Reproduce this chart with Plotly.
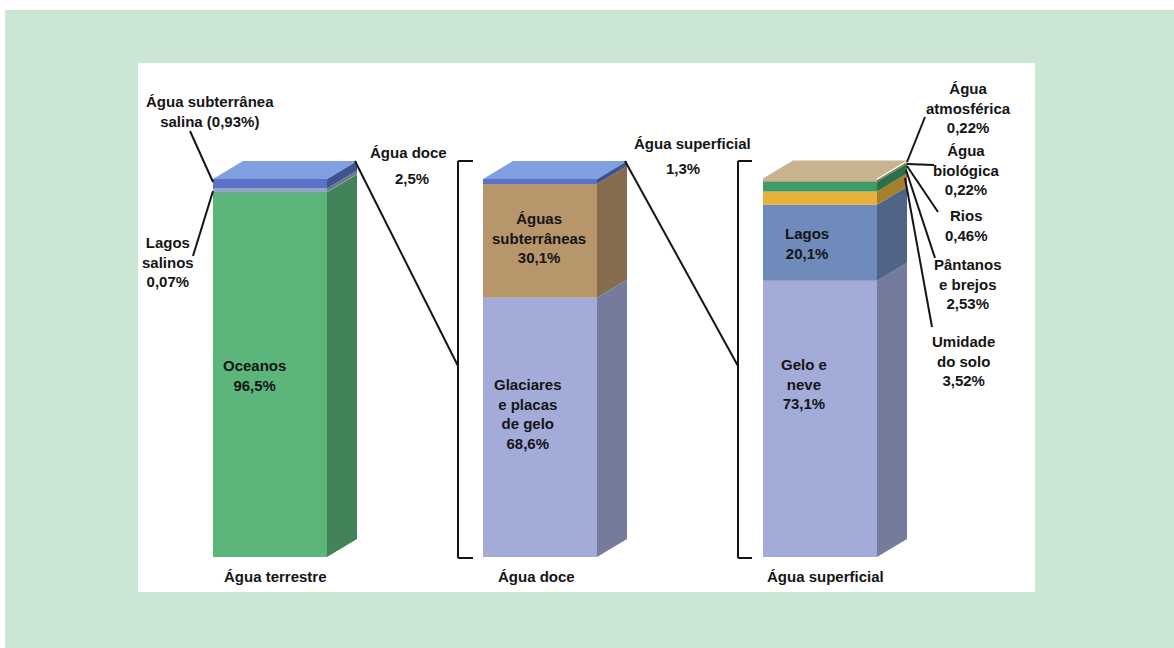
import plotly.graph_objects as go

# ---- data -------------------------------------------------------------
TERRESTRE_NAMES = ["Oceanos", "Lagos salinos", "Água subterrânea salina", "Água doce"]
TERRESTRE_VALUES = [96.5, 0.07, 0.93, 2.5]

DOCE_NAMES = ["Glaciares e placas de gelo", "Águas subterrâneas", "Água superficial"]
DOCE_VALUES = [68.6, 30.1, 1.3]

SUPERFICIAL_NAMES = ["Gelo e neve", "Lagos", "Umidade do solo", "Pântanos e brejos",
                     "Rios", "Água biológica", "Água atmosférica"]
SUPERFICIAL_VALUES = [73.1, 20.1, 3.52, 2.53, 0.46, 0.22, 0.22]

BAR_TITLES = ["Água terrestre", "Água doce", "Água superficial"]

# ---- styling ----------------------------------------------------------
TERRESTRE_COLORS = ["#5cb67c", "#7d9a9a", "#93a9c2", "#5a73c9"]
DOCE_COLORS = ["#a3abd9", "#b8966b", "#5a73c9"]
SUPERFICIAL_COLORS = ["#a3abd9", "#6e8bbb", "#e6b13d", "#3e9c68",
                      "#b5a47c", "#c2ab86", "#c9b592"]
TOP_COLORS = ["#7f9fe1", "#7f9fe1", "#c8b391"]

W, H = 1174, 648
CENTERS = [270, 540, 820]      # bar centres, horizontal pixels
BAR_W = 114
DEPTH_X = 30                   # 3-D depth offset (px)
DEPTH_Y_PX = 18
PX_PER_PCT = 3.78              # vertical scale
BASE_PX = 557                  # pixel row of 0 %
DEPTH_Y = DEPTH_Y_PX / PX_PER_PCT

FONT = "Liberation Sans, Arial, sans-serif"
INK = "#151515"


def pct_to_px(v):
    return BASE_PX - v * PX_PER_PCT


def darken(hex_color, f=0.72):
    h = hex_color.lstrip("#")
    r, g, b = (int(h[i:i + 2], 16) for i in (0, 2, 4))
    return "#%02x%02x%02x" % (int(r * f), int(g * f), int(b * f))


def fmt(v, d=1):
    return f"{v:.{d}f}".replace(".", ",") + "%"


fig = go.Figure()

columns = [
    (TERRESTRE_VALUES, TERRESTRE_COLORS),
    (DOCE_VALUES, DOCE_COLORS),
    (SUPERFICIAL_VALUES, SUPERFICIAL_COLORS),
]

corners = []
for i, (vals, cols) in enumerate(columns):
    cx = CENTERS[i]
    xl, xr = cx - BAR_W / 2, cx + BAR_W / 2
    cum = 0.0
    for v, c in zip(vals, cols):
        # front face
        fig.add_trace(go.Bar(x=[cx], y=[v], base=[cum], width=[BAR_W],
                             marker=dict(color=c, line=dict(width=0)),
                             hoverinfo="skip", showlegend=False))
        # right side face
        fig.add_trace(go.Scatter(
            x=[xr, xr + DEPTH_X, xr + DEPTH_X, xr, xr],
            y=[cum, cum + DEPTH_Y, cum + v + DEPTH_Y, cum + v, cum],
            mode="lines", fill="toself", fillcolor=darken(c),
            line=dict(width=0, color=darken(c)), hoverinfo="skip", showlegend=False))
        cum += v
    # top face
    fig.add_trace(go.Scatter(
        x=[xl, xr, xr + DEPTH_X, xl + DEPTH_X, xl],
        y=[cum, cum, cum + DEPTH_Y, cum + DEPTH_Y, cum],
        mode="lines", fill="toself", fillcolor=TOP_COLORS[i],
        line=dict(width=0, color=TOP_COLORS[i]), hoverinfo="skip", showlegend=False))
    corners.append((xr + DEPTH_X, pct_to_px(cum + DEPTH_Y), xl, pct_to_px(cum)))

shapes = [
    # green card and white panel
    dict(type="rect", xref="x", yref="y2", x0=5, x1=1174, y0=10, y1=648,
         fillcolor="#cce6d5", line=dict(width=0), layer="below"),
    dict(type="rect", xref="x", yref="y2", x0=138, x1=1035, y0=63, y1=592,
         fillcolor="#ffffff", line=dict(width=0), layer="below"),
]


def seg(x0, y0, x1, y1, w=2):
    shapes.append(dict(type="line", xref="x", yref="y2", x0=x0, y0=y0, x1=x1, y1=y1,
                       line=dict(color=INK, width=w)))


# brackets in front of the 2nd and 3rd bars
for bx, tick in ((458, 473), (738, 752)):
    top_px = corners[0][1]
    seg(bx, top_px, bx, BASE_PX + 1)
    seg(bx, top_px, tick, top_px)
    seg(bx, BASE_PX + 1, tick, BASE_PX + 1)

# links from bar tops to the next bracket
seg(corners[0][0] - 2, corners[0][1], 458, 366)
seg(corners[1][0] - 2, corners[1][1], 738, 366)

# leaders of the first bar
fl = corners[0][2]
seg(190, 131, fl, pct_to_px(99.2))
seg(193, 256, fl, pct_to_px(96.8))

# leaders of the third bar
rx = corners[2][0]
seg(rx, 162, 925, 117)
seg(rx, 164, 934, 165)
seg(rx, 166, 938, 212)
seg(rx - 1, 170, 935, 258)
seg(rx - 2, 178, 932, 327)

annotations = []


def label(x, y, lines, size=15):
    annotations.append(dict(
        x=x, y=y, xref="x", yref="y2", text="<br>".join(f"<b>{t}</b>" for t in lines),
        showarrow=False, xanchor="center", yanchor="middle", align="center",
        font=dict(family=FONT, size=size, color=INK)))


# in-bar labels
label(254, 375, [TERRESTRE_NAMES[0], fmt(TERRESTRE_VALUES[0])])
label(539, 238, ["Águas", "subterrâneas", fmt(DOCE_VALUES[1])])
label(528, 414, ["Glaciares", "e placas", "de gelo", fmt(DOCE_VALUES[0])])
label(807, 243, [SUPERFICIAL_NAMES[1], fmt(SUPERFICIAL_VALUES[1])])
label(804, 384, ["Gelo e", "neve", fmt(SUPERFICIAL_VALUES[0])])

# bar titles
for cx_t, t in zip([275, 536, 825], BAR_TITLES):
    label(cx_t, 576, [t])

# side labels
label(210, 111, ["Água subterrânea", f"salina ({fmt(TERRESTRE_VALUES[2], 2)})"])
label(168, 262, ["Lagos", "salinos", fmt(TERRESTRE_VALUES[1], 2)])
label(408, 152, [TERRESTRE_NAMES[3]])
label(412, 178, [fmt(TERRESTRE_VALUES[3])])
label(692, 143, [DOCE_NAMES[2]])
label(683, 168, [fmt(DOCE_VALUES[2])])
label(968, 108, ["Água", "atmosférica", fmt(SUPERFICIAL_VALUES[6], 2)])
label(966, 170, ["Água", "biológica", fmt(SUPERFICIAL_VALUES[5], 2)])
label(966, 225, ["Rios", fmt(SUPERFICIAL_VALUES[4], 2)])
label(968, 284, ["Pântanos", "e brejos", fmt(SUPERFICIAL_VALUES[3], 2)])
label(963, 361, ["Umidade", "do solo", fmt(SUPERFICIAL_VALUES[2], 2)])

fig.update_layout(
    width=W, height=H, margin=dict(l=0, r=0, t=0, b=0),
    paper_bgcolor="#ffffff", plot_bgcolor="rgba(0,0,0,0)",
    barmode="overlay", showlegend=False,
    xaxis=dict(range=[0, W], visible=False, fixedrange=True),
    yaxis=dict(range=[(BASE_PX - H) / PX_PER_PCT, BASE_PX / PX_PER_PCT],
               visible=False, fixedrange=True),
    yaxis2=dict(range=[H, 0], overlaying="y", visible=False, fixedrange=True),
    shapes=shapes, annotations=annotations,
)

fig.write_html("out.html", config={"displayModeBar": False})
